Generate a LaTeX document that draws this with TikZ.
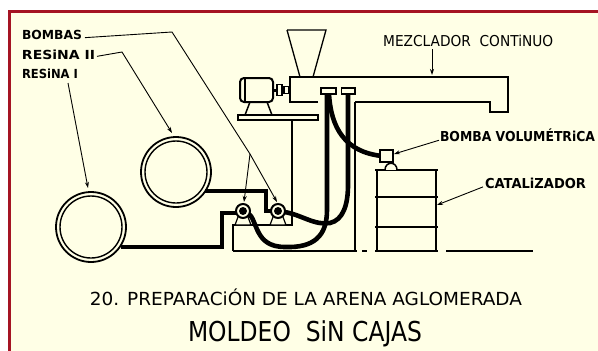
\documentclass[tikz,border=0pt]{standalone}
\usepackage{fontspec}
\setmainfont{DejaVu Sans}
\usetikzlibrary{arrows.meta}
\definecolor{paper}{RGB}{255,255,230}
\definecolor{framered}{RGB}{165,20,35}
% stretch a text horizontally to a given width, keeping its height
\newcommand\wtext[2]{\resizebox{#1}{\height}{#2}}
\tikzset{
  lbl/.style={inner sep=0pt, outer sep=0pt, font=\bfseries\fontsize{12.5}{13}\selectfont},
  biglbl/.style={inner sep=0pt, outer sep=0pt, font=\bfseries\fontsize{13.7}{14}\selectfont},
  leader/.style={line width=0.9pt, -{Stealth[length=6pt,width=4pt]}},
  pipe/.style={line width=4.6pt, line cap=butt, line join=miter},
  outline/.style={line width=1.3pt},
  heavy/.style={line width=1.8pt},
}
\begin{document}
\begin{tikzpicture}[x=1pt,y=-1pt]
\useasboundingbox (0,0) rectangle (598,351);
\fill[white] (0,0) rectangle (598,351);
\fill[paper] (9,11.7) rectangle (598,351);
\draw[framered, line width=3pt] (9,351) -- (9,11.7) -- (598,11.7);

% ---------- resin tanks ----------
\coordinate (r1) at (91,227);
\coordinate (r2) at (176,172);
\foreach \c in {r1,r2}{
  \draw[heavy] (\c) circle[radius=35pt];
  \draw[line width=1.4pt] (\c) circle[radius=31pt];
}

% ---------- pump base and stand ----------
\draw[outline] (233,251) -- (233,225) -- (293,225);
\draw[outline] (292,120) -- (292,225);
\draw[outline] (233,251) -- (357,251);
\draw[outline] (355,102) -- (355,251);
\draw[outline] (362,251) -- (367,251);

% ---------- mixer ----------
\draw[outline] (318,102) -- (290,102) -- (290,77) -- (508,77) -- (508,112)
  -- (490,112) -- (490,102) -- (355,102);
\draw[outline] (287,30) -- (326,30) -- (313,77);
\draw[outline] (287,30) -- (300,77);
\draw[outline] (238,115) rectangle (318,120);
% motor
\draw[line width=2pt, rounded corners=4pt] (240,78) rectangle (273,102);
\draw[line width=1.5pt] (245,79) -- (245,101);
\draw[line width=1.5pt] (250,102) -- (245,115) (267,102) -- (272,115);
\draw[line width=3pt] (273,90) -- (290,90);
\draw[line width=1.2pt, fill=paper] (277,84.5) rectangle (282,95.5);
\draw[line width=1.2pt, fill=paper] (284,86.5) rectangle (288.5,93.5);

% ---------- pipes ----------
\draw[pipe] (121,247) -- (222,247) -- (222,213) -- (236,213);
\draw[pipe] (205,191) -- (266,191) -- (266,211) -- (271,211);
\draw[pipe] (248,213) .. controls (258,220) and (254,247) .. (285,247)
  .. controls (314,248) and (327,236) .. (327,210) -- (327,94);
\draw[pipe] (284,212) .. controls (300,214) and (315,226) .. (330,223)
  .. controls (343,220) and (348,205) .. (348,185) -- (348,94);
\draw[pipe] (329,94) .. controls (331,128) and (345,152) .. (382,156);
% hose connectors
\draw[line width=1.5pt, fill=paper] (321,88) rectangle (336,94);
\draw[line width=1.5pt, fill=paper] (341.5,88) rectangle (355,94);

% ---------- pumps ----------
\foreach \x in {243,278}{
  \draw[line width=1.2pt, fill=paper] (\x-5,217) -- (\x-8,225) -- (\x+8,225) -- (\x+5,217);
  \draw[line width=2pt, fill=paper] (\x,211) circle[radius=7pt];
  \fill (\x,211) circle[radius=4pt];
}
\coordinate (p1top) at (244,202);
\coordinate (p2top) at (277,202);

% ---------- catalyst drum and metering pump ----------
\draw[line width=1.5pt] (377,170) -- (377,251);
\draw[line width=2pt] (436,170) -- (436,251);
\draw[line width=1.5pt] (375,170) -- (438,170);
\draw[line width=1.3pt] (375,197) -- (438,197) (375,227) -- (438,227);
\draw[outline] (375,251) -- (438,251);
\draw[outline] (446,251) -- (533,251);
\draw[line width=1.5pt, fill=paper] (385,170) .. controls (385,161) and (397,161) .. (397,170);
\draw[line width=1.5pt, fill=paper] (380,150) rectangle (393,162);
\coordinate (bvol) at (394,154);
\coordinate (drum) at (437,205);
\coordinate (mixtop) at (432,75);

% ---------- labels ----------
\node[lbl, anchor=base west] (t-bombas) at (22,39.5) {\wtext{60pt}{BOMBAS}};
\node[lbl, anchor=base west] (t-res2) at (22,59) {\wtext{73pt}{RESiNA II}};
\node[lbl, anchor=base west] (t-res1) at (22,78) {\wtext{56pt}{RESiNA I}};
\node[inner sep=0pt, font=\fontsize{15}{15}\selectfont, anchor=base west] (t-mez) at (383,46.5)
  {\wtext{170pt}{MEZCLADOR\ \ CONTiNUO}};
\node[biglbl, anchor=base west] (t-bvol) at (440,141.5) {\wtext{155pt}{BOMBA VOLUMÉTRiCA}};
\node[biglbl, anchor=base west] (t-cat) at (485,188) {\wtext{101pt}{CATALiZADOR}};
\node[inner sep=0pt, font=\fontsize{18}{18}\selectfont, anchor=base] (t-title) at (306,305)
  {\wtext{432pt}{20. PREPARACiÓN DE LA ARENA AGLOMERADA}};
\node[inner sep=0pt, font=\fontsize{27.4}{28}\selectfont, anchor=base] (t-sub) at (305,341.5)
  {\wtext{234pt}{MOLDEO\ \ SiN CAJAS}};

% ---------- leaders ----------
\coordinate (bk) at (172,32);
\coordinate (bj) at (250,154);
\draw[line width=0.9pt] ([xshift=3pt,yshift=-2.7pt]t-bombas.east) -- (bk) -- (bj);
\draw[leader] (bj) -- (p2top);
\draw[leader] (bj) -- (p1top);
\draw[leader] ([xshift=2pt,yshift=-2pt]t-res2.east) -- (122,52) -- (172,133);
\draw[leader] (68,83) -- (88,188);
\draw[leader] (432,49) -- (mixtop);
\draw[leader] ([xshift=-1pt,yshift=-5pt]t-bvol.west) -- (bvol);
\draw[leader] ([xshift=-2pt,yshift=-4pt]t-cat.west) -- (drum);
\end{tikzpicture}
\end{document}
